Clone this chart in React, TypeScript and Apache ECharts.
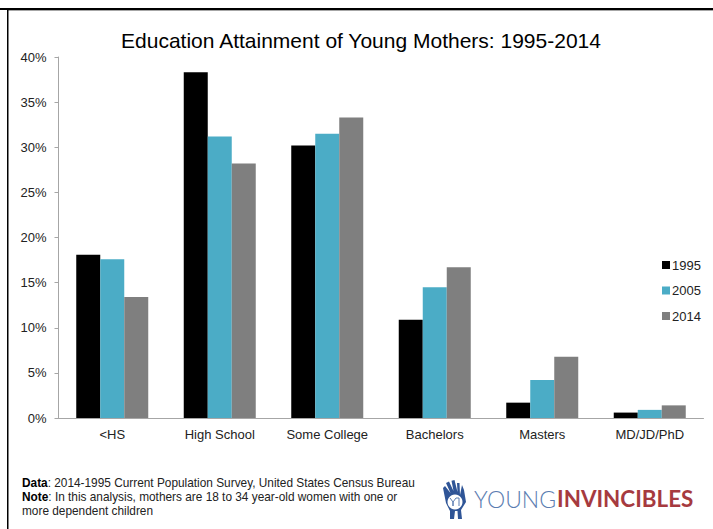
import React, { useEffect, useRef } from "react";
import * as echarts from "echarts";

const categories = ["<HS", "High School", "Some College", "Bachelors", "Masters", "MD/JD/PhD"];
const seriesNames = ["1995", "2005", "2014"];
const values1995 = [18.1, 38.3, 30.2, 10.9, 1.7, 0.6];
const values2005 = [17.6, 31.2, 31.5, 14.5, 4.2, 0.9];
const values2014 = [13.4, 28.2, 33.3, 16.7, 6.8, 1.4];
const colors = ["#000000", "#4bacc6", "#7f7f7f"];
const titleText = "Education Attainment of Young Mothers: 1995-2014";

const FONT = '"Liberation Sans", Arial, sans-serif';
const HAND =
  "M0 8 L2 6 L7.5 13 L3 3 L6 1.5 L10.5 11 L8.5 0.8 L11.5 0 L14.5 12 L14 3 L16.5 3 L17 15 L19 5 L21 10 L23 22 L18 30 L19 39 L15 39 L14.5 31 L12 31 L11 39 L7 39 L7 31 L3 23 Z";

export default function App() {
  const ref = useRef<HTMLDivElement>(null);
  useEffect(() => {
    if (!ref.current) return;
    echarts.graphic.registerShape("yiHand", echarts.graphic.extendPath(HAND, {}) as any);
    const chart = echarts.init(ref.current, undefined, { renderer: "svg" });
    const data = [values1995, values2005, values2014];
    chart.setOption({
      animation: false,
      backgroundColor: "#ffffff",
      title: {
        text: titleText,
        left: 356,
        top: 25,
        textAlign: "center",
        textStyle: { fontFamily: FONT, fontSize: 21, fontWeight: "normal", color: "#000000" },
      },
      legend: {
        orient: "vertical",
        left: 662,
        top: 258.5,
        padding: 0,
        itemWidth: 8,
        itemHeight: 8,
        itemGap: 12.5,
        icon: "rect",
        data: seriesNames,
        textStyle: { fontFamily: FONT, fontSize: 13, color: "#222222", padding: [0, 0, 0, -3] },
      },
      grid: { left: 58.5, top: 57, width: 645, height: 361, containLabel: false },
      xAxis: {
        type: "category",
        data: categories,
        axisLine: { lineStyle: { color: "#a6a6a6", width: 1 } },
        axisTick: { show: false },
        axisLabel: { fontFamily: FONT, fontSize: 13, color: "#222222", margin: 10 },
      },
      yAxis: {
        type: "value",
        min: 0,
        max: 40,
        interval: 5,
        splitLine: { show: false },
        axisLine: { show: true, lineStyle: { color: "#a6a6a6", width: 1 } },
        axisTick: { show: true, length: 4, lineStyle: { color: "#a6a6a6" } },
        axisLabel: { fontFamily: FONT, fontSize: 13, color: "#222222", margin: 12, formatter: "{value}%" },
      },
      series: seriesNames.map((name, i) => ({
        name,
        type: "bar",
        data: data[i],
        barWidth: 24,
        barGap: 0,
        itemStyle: { color: colors[i] },
      })),
      graphic: [
        { type: "rect", shape: { x: 0, y: 8, width: 713, height: 2 }, style: { fill: "#000000" } },
        { type: "rect", shape: { x: 8, y: 10, width: 705, height: 1 }, style: { fill: "#a6a6a6" } },
        { type: "rect", shape: { x: 7, y: 8, width: 1.5, height: 521 }, style: { fill: "#000000" } },
        {
          type: "text",
          x: 22,
          y: 476,
          style: {
            text: "{b|Data}: 2014-1995 Current Population Survey, United States Census Bureau\n{b|Note}: In this analysis, mothers are 18 to 34 year-old women with one or\nmore dependent children",
            fontFamily: FONT,
            fontSize: 11.85,
            lineHeight: 14,
            fill: "#222222",
            rich: {
              b: { fontFamily: FONT, fontSize: 11.85, fontWeight: "bold", fill: "#000000", lineHeight: 14 },
            },
          },
        },
        { type: "yiHand", x: 443, y: 480, style: { fill: "#2f5597" } },
        { type: "circle", shape: { cx: 455, cy: 502, r: 7.5 }, style: { fill: "#ffffff" } },
        {
          type: "polyline",
          shape: { points: [[450, 498], [453, 502], [453, 506], [453, 502], [456, 498], [459, 498], [459, 506]] },
          style: { fill: "none", stroke: "#5b7db1", lineWidth: 1 },
        },
        {
          type: "text",
          x: 474,
          y: 487,
          style: { text: "YOUNG", fontFamily: "Lato, sans-serif", fontSize: 23, fontWeight: 300, fill: "#5b7db1" },
        },
        {
          type: "text",
          x: 557,
          y: 487,
          style: { text: "INVINCIBLES", fontFamily: "Lato, sans-serif", fontSize: 22.4, fontWeight: "bold", fill: "#a63a3f" },
        },
      ],
    });
    return () => chart.dispose();
  }, []);
  return (
    <div
      ref={ref}
      style={{ position: "absolute", left: 0, top: 0, width: 713, height: 529 }}
    />
  );
}
